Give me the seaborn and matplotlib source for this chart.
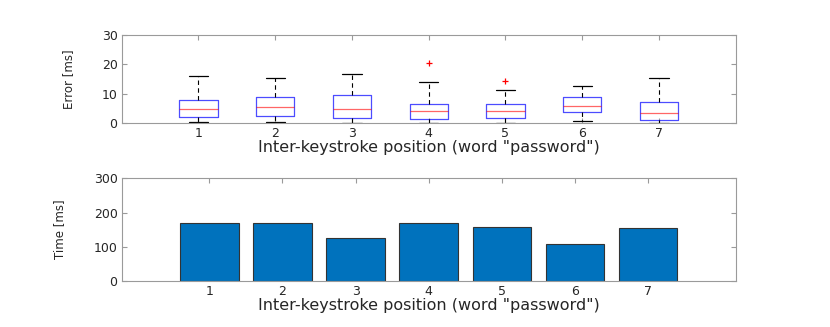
import numpy as np
import pandas as pd
import matplotlib
matplotlib.use("Agg")
import matplotlib.pyplot as plt
import seaborn as sns

# keystroke positions in the word "password"
positions = [1, 2, 3, 4, 5, 6, 7]

# box plot statistics of the error (ms)
err_whislo = [0.2, 0.4, 0.1, 0.1, 0.1, 0.5, 0.1]
err_q1 = [2.2, 2.5, 1.7, 1.3, 1.6, 3.6, 0.9]
err_med = [4.9, 5.3, 4.6, 4.0, 4.0, 5.9, 3.3]
err_q3 = [7.9, 8.9, 9.6, 6.6, 6.3, 8.7, 7.0]
err_whishi = [16.1, 15.2, 16.6, 14.0, 11.2, 12.7, 15.4]
err_fliers = [[], [], [], [20.4], [14.2], [], []]

# mean inter-keystroke time (ms)
time_ms = [171, 170, 125, 171, 157, 107, 156]

sns.set_style("ticks")
plt.rcParams['font.family'] = ['DejaVu Sans']

grey = "#9a9a9a"
txt = "#262626"
narrow = ['Liberation Sans Narrow', 'DejaVu Sans']
xlab = 'Inter-keystroke position (word "password")'

fig = plt.figure(figsize=(8.3, 3.27), dpi=100)
ax1 = fig.add_axes([0.1466, 0.624, 0.7398, 0.269])
ax2 = fig.add_axes([0.1466, 0.1407, 0.7398, 0.3138])

# top: box plot from the summary statistics
stats = []
for i in range(len(positions)):
    stats.append({"whislo": err_whislo[i], "q1": err_q1[i], "med": err_med[i],
                  "q3": err_q3[i], "whishi": err_whishi[i],
                  "fliers": err_fliers[i]})
ax1.bxp(stats, positions=positions, widths=0.5, showfliers=True,
        boxprops=dict(color="#0000ff", lw=0.9, alpha=0.7),
        medianprops=dict(color="#ff0000", lw=0.9, alpha=0.6),
        whiskerprops=dict(color="black", lw=0.8, ls=(0, (4, 3))),
        capprops=dict(color="black", lw=0.9),
        capwidths=0.25,
        flierprops=dict(marker="+", markeredgecolor="#ff0000", markersize=5,
                        markeredgewidth=0.9, linestyle="none"))
ax1.set_xlim(0, 8)
ax1.set_ylim(0, 30)
ax1.set_yticks([0, 10, 20, 30])
ax1.set_xticks(positions)
ax1.set_xticklabels([str(p) for p in positions])
ax1.set_ylabel("Error [ms]", fontsize=8.5, color=txt, family=narrow)
ax1.yaxis.set_label_coords(-0.076, 0.5)
ax1.set_xlabel(xlab, fontsize=11.5, color=txt, labelpad=0)

# bottom: bar chart
df = pd.DataFrame({"pos": [str(p) for p in positions], "time": time_ms})
sns.barplot(data=df, x="pos", y="time", color="#0072BD", saturation=1,
            width=0.8, edgecolor="#333333", linewidth=0.8, ax=ax2)
ax2.set_xlim(-1.2, 7.2)
ax2.set_ylim(0, 300)
ax2.set_yticks([0, 100, 200, 300])
ax2.set_ylabel("Time [ms]", fontsize=8.5, color=txt, family=narrow)
ax2.yaxis.set_label_coords(-0.091, 0.5)
ax2.set_xlabel(xlab, fontsize=11.5, color=txt, labelpad=0)

for ax in (ax1, ax2):
    for s in ax.spines.values():
        s.set_visible(True)
        s.set_color(grey)
        s.set_linewidth(0.8)
    ax.tick_params(direction="in", length=3.5, width=0.8, color=grey,
                   top=True, right=True, labelsize=9, labelcolor=txt, pad=3)

fig.savefig("out.png", dpi=100)
